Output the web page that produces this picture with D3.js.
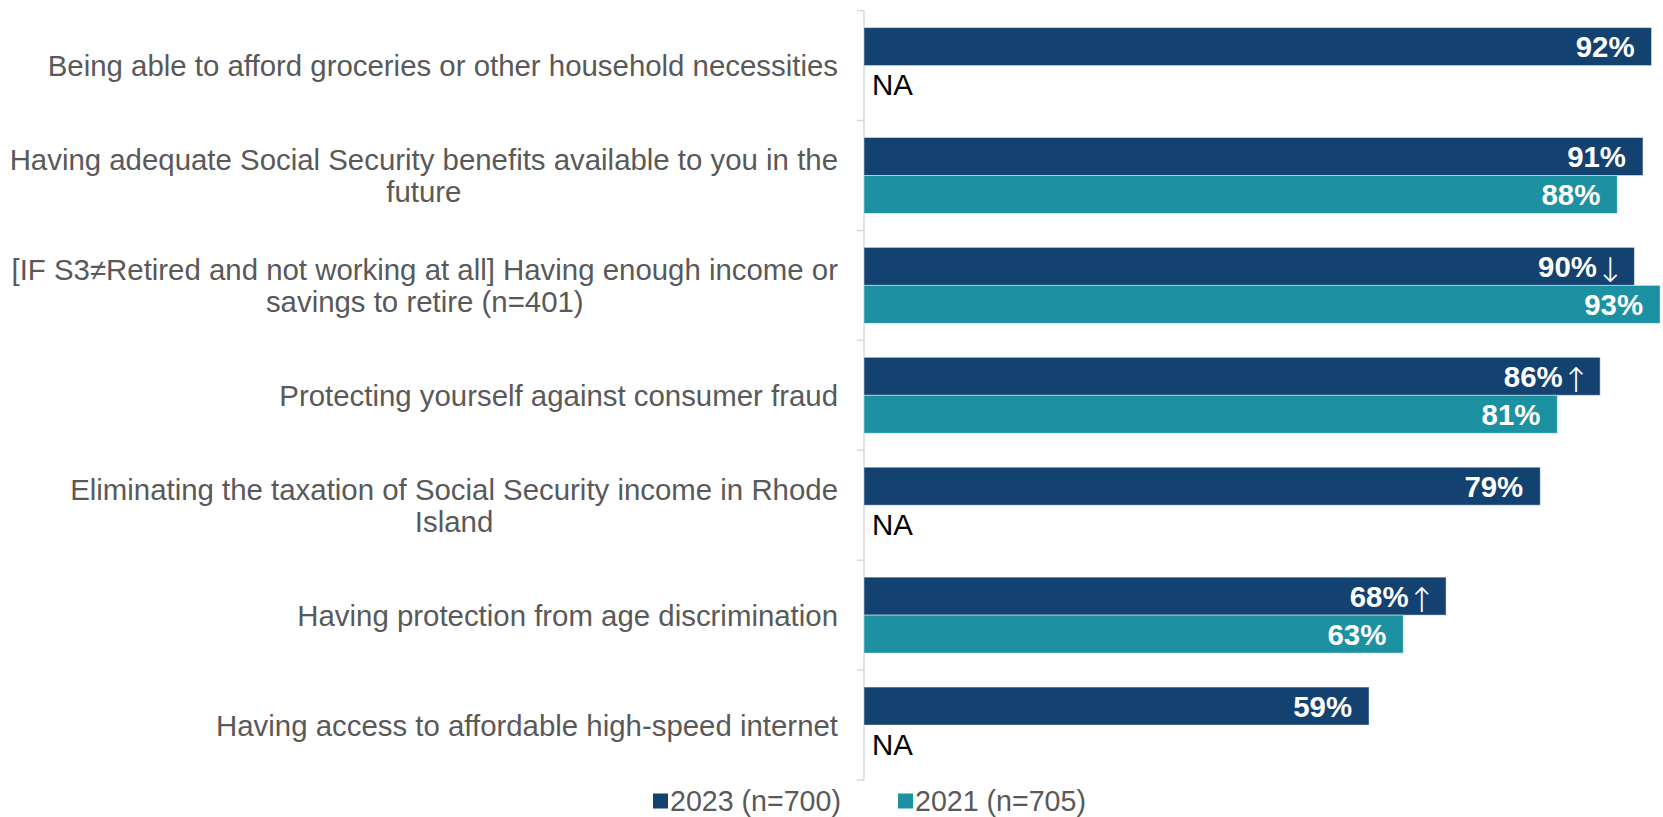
<!DOCTYPE html>
<html>
<head>
<meta charset="utf-8">
<script src="https://cdn.jsdelivr.net/npm/d3@7"></script>
<style>
  html, body { margin: 0; padding: 0; background: #fff; }
  svg { display: block; font-family: "Liberation Sans", Arial, sans-serif; }
</style>
</head>
<body>
<svg id="chart" width="1663" height="817"></svg>
<script>
// Importance of issues, share of respondents
const categories = [
  "Being able to afford groceries or other household necessities",
  "Having adequate Social Security benefits available to you in the future",
  "[IF S3\u2260Retired and not working at all] Having enough income or savings to retire (n=401)",
  "Protecting yourself against consumer fraud",
  "Eliminating the taxation of Social Security income in Rhode Island",
  "Having protection from age discrimination",
  "Having access to affordable high-speed internet"
];
const seriesNames = ["2023 (n=700)", "2021 (n=705)"];
const values2023 = [92, 91, 90, 86, 79, 68, 59];
const values2021 = [null, 88, 93, 81, null, 63, null];
// significance markers shown after the 2023 value
const change2023 = ["", "", "\u2193", "\u2191", "", "\u2191", ""];
const colors = ["#134170", "#1c91a1"];

const svg = d3.select("#chart");
const axisX = 864, plotTop = 10.6, plotBottom = 780;
const fontSize = 29.4;

const x = d3.scaleLinear().domain([0, 100]).range([axisX, axisX + 856]);
const y = d3.scaleBand().domain(categories).range([plotTop, plotBottom])
  .paddingInner(0.309).paddingOuter(0.1545);
const ySub = d3.scaleBand().domain([0, 1]).range([0, y.bandwidth()]).padding(0);

const groupTop = c => y(c) - y.step() * y.paddingInner() / 2;

// axis line with category dividers
const axisG = svg.append("g").attr("stroke", "#d9d9d9").attr("stroke-width", 1.5);
axisG.append("line").attr("x1", axisX).attr("x2", axisX).attr("y1", plotTop).attr("y2", plotBottom);
const boundaries = categories.map(c => groupTop(c)).concat([plotBottom]);
axisG.selectAll("line.tick").data(boundaries).join("line").attr("class", "tick")
  .attr("x1", axisX - 7).attr("x2", axisX).attr("y1", d => d).attr("y2", d => d);

// bars
const rows = [];
categories.forEach((c, i) => {
  rows.push({ c, s: 0, v: values2023[i], mark: change2023[i] });
  rows.push({ c, s: 1, v: values2021[i], mark: "" });
});

const g = svg.append("g");
g.selectAll("rect").data(rows.filter(d => d.v != null)).join("rect")
  .attr("x", x(0))
  .attr("y", d => y(d.c) + ySub(d.s))
  .attr("width", d => x(d.v) - x(0))
  .attr("height", ySub.bandwidth())
  .attr("fill", d => colors[d.s])
  .attr("stroke", "#ffffff").attr("stroke-opacity", 0.45).attr("stroke-width", 1);

// value labels (the arrow glyph carries its own right side bearing)
const vl = g.selectAll("text.val").data(rows.filter(d => d.v != null)).join("text")
  .attr("class", "val")
  .attr("x", d => x(d.v) - (d.mark ? 10 : 17))
  .attr("y", d => y(d.c) + ySub(d.s) + ySub.bandwidth() / 2)
  .attr("text-anchor", "end")
  .attr("fill", "#ffffff")
  .attr("font-size", fontSize)
  .attr("font-weight", "bold");
vl.append("tspan").attr("dy", "0.36em").text(d => d.v + "%");
vl.filter(d => d.mark).append("tspan")
  .attr("font-family", "'DejaVu Sans', sans-serif")
  .attr("font-weight", 200)
  .attr("font-size", 34)
  .attr("dx", -1)
  .attr("dy", 5)
  .text(d => d.mark);

// NA labels where a series has no value
g.selectAll("text.na").data(rows.filter(d => d.v == null)).join("text")
  .attr("class", "na")
  .attr("x", axisX + 8)
  .attr("y", d => y(d.c) + ySub(d.s) + ySub.bandwidth() / 2)
  .attr("dy", "0.36em")
  .attr("fill", "#000000")
  .attr("font-size", fontSize)
  .text("NA");

// category labels, wrapped and centred as a right-aligned block
const labelRight = 838, maxWidth = 836, lineHeight = 32;
const measure = svg.append("text").attr("font-size", fontSize).attr("visibility", "hidden");
const textWidth = s => { measure.text(s); return measure.node().getComputedTextLength(); };
function wrap(s) {
  const words = s.split(" ");
  const lines = [];
  let cur = "";
  words.forEach(w => {
    const t = cur ? cur + " " + w : w;
    if (textWidth(t) > maxWidth && cur) { lines.push(cur); cur = w; } else cur = t;
  });
  if (cur) lines.push(cur);
  return lines;
}
const labG = svg.append("g").attr("fill", "#595959").attr("font-size", fontSize);
categories.forEach(c => {
  const lines = wrap(c);
  const blockW = d3.max(lines, textWidth);
  const cx = labelRight - blockW / 2;
  const cy = y(c) + y.bandwidth() / 2;
  const t = labG.append("text").attr("text-anchor", "middle")
    .attr("y", cy - (lines.length - 1) * lineHeight / 2);
  lines.forEach((l, k) => {
    t.append("tspan").attr("x", cx).attr("dy", k === 0 ? "0.36em" : lineHeight).text(l);
  });
});
measure.remove();

// legend
const legendX = [653, 898];
const legend = svg.append("g").selectAll("g").data(seriesNames).join("g")
  .attr("transform", (d, i) => `translate(${legendX[i]},801)`);
legend.append("rect").attr("x", 0).attr("y", -7.5).attr("width", 15).attr("height", 15)
  .attr("fill", (d, i) => colors[i]);
legend.append("text").attr("x", 17).attr("dy", "0.36em")
  .attr("font-size", 28.6).attr("fill", "#595959").text(d => d);
</script>
</body>
</html>
